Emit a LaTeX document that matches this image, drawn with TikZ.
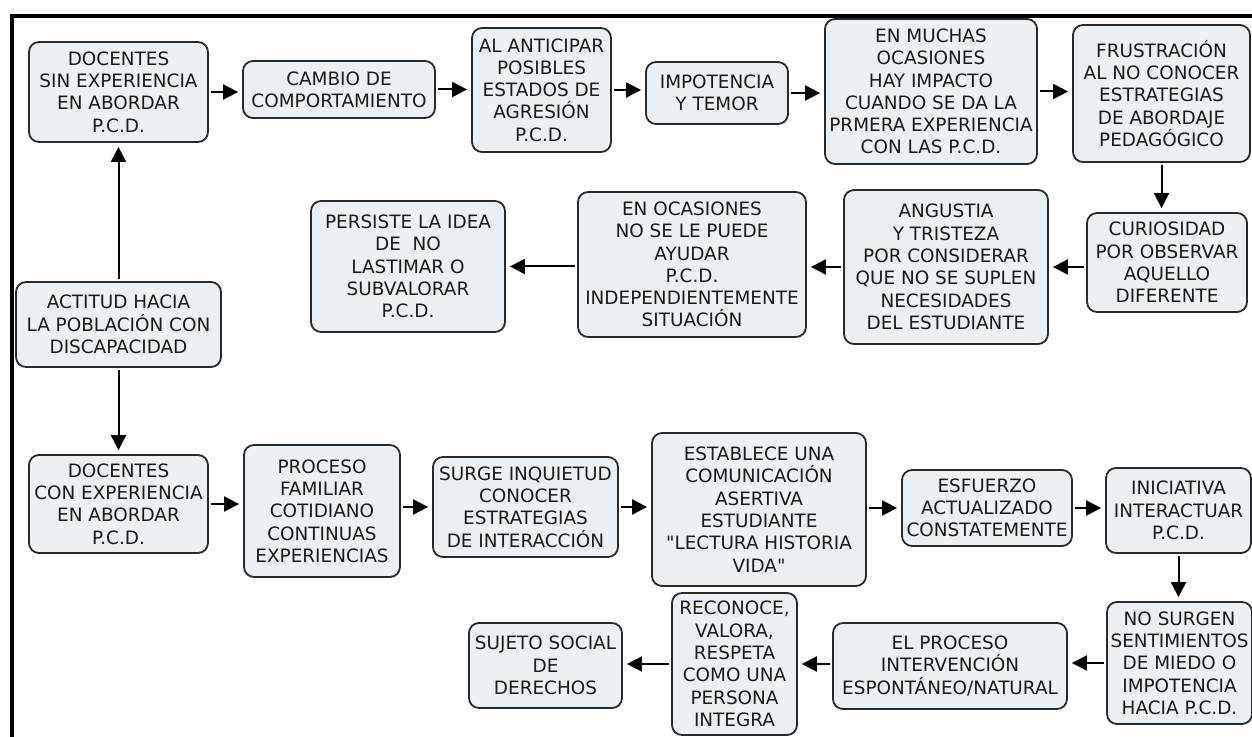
\documentclass[tikz,border=0pt]{standalone}
\usepackage{fontspec}
\setmainfont{DejaVu Sans}[Ligatures=TeXOff]
\usetikzlibrary{arrows.meta}
\definecolor{boxfill}{HTML}{EAF0F3}
\definecolor{boxline}{HTML}{2A2A2A}
\definecolor{inkcol}{HTML}{1A1A1A}
\tikzset{
  concept/.style={draw=boxline, line width=0.9pt, fill=boxfill, rounded corners=5pt,
    align=center, inner sep=0pt, text=inkcol, font=\fontsize{9.2pt}{11.15pt}\selectfont},
  link/.style={draw=black, line width=1pt, -{Triangle[length=7.5pt,width=7.5pt]},
    shorten >=2pt, shorten <=1pt},
  borderline/.style={line width=2pt, draw=black}
}
% concept box given by its corners (x1,y1)-(x2,y2), in pixel units
\newcommand\mapbox[6]{\node[concept, minimum width={(#4-#2)*0.5pt},
  minimum height={(#5-#3)*0.5pt}] (#1) at ({(#2+#4)/2},{(#3+#5)/2}) {#6};}
\begin{document}
\begin{tikzpicture}[x=0.5pt, y=-0.5pt]
\useasboundingbox (0,0) rectangle (1252,737);
\fill[white] (0,0) rectangle (1252,737);
% outer border (top and left)
\draw[borderline] (1252,16) -- (12,16) -- (12,737);

% first row
\mapbox{dsin}{29}{42}{208}{142}{DOCENTES\\SIN EXPERIENCIA\\EN ABORDAR\\P.C.D.}
\mapbox{cambio}{243}{61}{435}{118}{CAMBIO DE\\COMPORTAMIENTO}
\mapbox{anticipar}{472}{28}{611}{152}{AL ANTICIPAR\\POSIBLES\\ESTADOS DE\\AGRESIÓN\\P.C.D.}
\mapbox{impot}{646}{62}{788}{124}{IMPOTENCIA\\Y TEMOR}
\mapbox{muchas}{825}{19}{1037}{164}{EN MUCHAS\\OCASIONES\\HAY IMPACTO\\CUANDO SE DA LA\\PRMERA EXPERIENCIA\\CON LAS P.C.D.}
\mapbox{frust}{1073}{25}{1250}{162}{FRUSTRACIÓN\\AL NO CONOCER\\ESTRATEGIAS\\DE ABORDAJE\\PEDAGÓGICO}

% second row
\mapbox{curios}{1087}{213}{1247}{312}{CURIOSIDAD\\POR OBSERVAR\\AQUELLO\\DIFERENTE}
\mapbox{angustia}{844}{190}{1048}{344}{ANGUSTIA\\Y TRISTEZA\\POR CONSIDERAR\\QUE NO SE SUPLEN\\NECESIDADES\\DEL ESTUDIANTE}
\mapbox{ocasiones}{578}{192}{806}{337}{EN OCASIONES\\NO SE LE PUEDE\\AYUDAR\\P.C.D.\\INDEPENDIENTEMENTE\\SITUACIÓN}
\mapbox{persiste}{311}{201}{505}{332}{PERSISTE LA IDEA\\DE~~NO\\LASTIMAR O\\SUBVALORAR\\P.C.D.}
\mapbox{actitud}{16}{282}{221}{367}{ACTITUD HACIA\\LA POBLACIÓN CON\\DISCAPACIDAD}

% third row
\mapbox{dcon}{29}{455}{208}{553}{DOCENTES\\CON EXPERIENCIA\\EN ABORDAR\\P.C.D.}
\mapbox{proceso}{244}{445}{400}{577}{PROCESO\\FAMILIAR\\COTIDIANO\\CONTINUAS\\EXPERIENCIAS}
\mapbox{surge}{433}{457}{618}{557}{SURGE INQUIETUD\\CONOCER\\ESTRATEGIAS\\DE INTERACCIÓN}
\mapbox{establece}{652}{433}{866}{586}{ESTABLECE UNA\\COMUNICACIÓN\\ASERTIVA\\ESTUDIANTE\\"LECTURA HISTORIA\\VIDA"}
\mapbox{esfuerzo}{902}{470}{1072}{546}{ESFUERZO\\ACTUALIZADO\\CONSTATEMENTE}
\mapbox{iniciativa}{1106}{468}{1251}{553}{INICIATIVA\\INTERACTUAR\\P.C.D.}

% fourth row
\mapbox{nosurgen}{1107}{602}{1252}{724}{NO SURGEN\\SENTIMIENTOS\\DE MIEDO O\\IMPOTENCIA\\HACIA P.C.D.}
\mapbox{elproceso}{833}{623}{1067}{709}{EL PROCESO\\INTERVENCIÓN\\ESPONTÁNEO/NATURAL}
\mapbox{reconoce}{672}{593}{797}{735}{RECONOCE,\\VALORA,\\RESPETA\\COMO UNA\\PERSONA\\INTEGRA}
\mapbox{sujeto}{469}{623}{622}{708}{SUJETO SOCIAL\\DE\\DERECHOS}

% links, first branch
\draw[link] (actitud.north) -- (dsin.south);
\draw[link] (dsin.east) -- (dsin.east -| cambio.west);
\draw[link] (cambio.east) -- (cambio.east -| anticipar.west);
\draw[link] (anticipar.east) -- (anticipar.east -| impot.west);
\draw[link] (impot.east) -- (impot.east -| muchas.west);
\draw[link] (muchas.east) -- (muchas.east -| frust.west);
\draw[link] (frust.south) -- (frust.south |- curios.north);
\draw[link] (curios.west |- angustia.east) -- (angustia.east);
\draw[link] (angustia.west) -- (angustia.west -| ocasiones.east);
\draw[link] (ocasiones.west |- persiste.east) -- (persiste.east);

% links, second branch
\draw[link] (actitud.south) -- (dcon.north);
\draw[link] (dcon.east) -- (dcon.east -| proceso.west);
\draw[link] (proceso.east |- surge.west) -- (surge.west);
\draw[link] (surge.east) -- (surge.east -| establece.west);
\draw[link] (establece.east |- esfuerzo.west) -- (esfuerzo.west);
\draw[link] (esfuerzo.east) -- (esfuerzo.east -| iniciativa.west);
\draw[link] (iniciativa.south) -- (iniciativa.south |- nosurgen.north);
\draw[link] (nosurgen.west) -- (nosurgen.west -| elproceso.east);
\draw[link] (elproceso.west |- reconoce.east) -- (reconoce.east);
\draw[link] (reconoce.west) -- (reconoce.west -| sujeto.east);
\end{tikzpicture}
\end{document}
